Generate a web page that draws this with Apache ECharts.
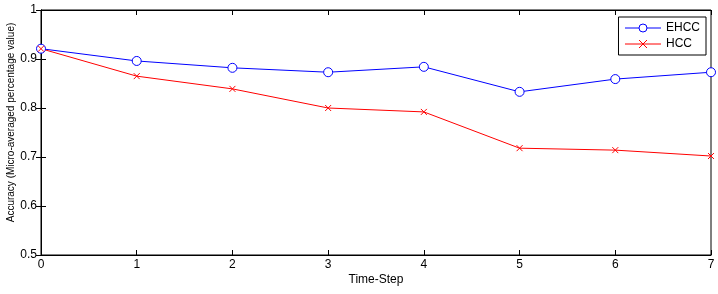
<!DOCTYPE html>
<html><head><meta charset="utf-8">
<style>html,body{margin:0;padding:0;background:#fff}#c{width:718px;height:294px}</style>
<script src="https://cdn.jsdelivr.net/npm/echarts@6/dist/echarts.min.js"></script>
</head><body><div id="c"></div>
<script>
var steps = [0, 1, 2, 3, 4, 5, 6, 7];
var ehcc = [0.921, 0.896, 0.882, 0.873, 0.884, 0.833, 0.859, 0.873];
var hcc = [0.921, 0.865, 0.839, 0.800, 0.792, 0.718, 0.714, 0.702];
var yTicks = [0.5, 0.6, 0.7, 0.8, 0.9, 1];

var chart = echarts.init(document.getElementById('c'), null, {renderer: 'canvas'});
var font = 'Liberation Sans, Arial, sans-serif';
function pairs(v) { return steps.map(function (s, i) { return [s, v[i]]; }); }
var tickStyle = {show: true, inside: true, length: 5, lineStyle: {color: '#000', width: 1}};
chart.setOption({
  animation: false,
  textStyle: {fontFamily: font},
  grid: {left: 41, right: 7, top: 10, bottom: 39, show: true, borderColor: '#000', borderWidth: 1,
         containLabel: false, outerBoundsMode: 'none'},
  legend: {
    right: 12, top: 17, orient: 'vertical', itemGap: 4, itemWidth: 36, itemHeight: 10,
    borderColor: '#000', borderWidth: 1, padding: [5, 6, 5, 6], backgroundColor: '#fff',
    textStyle: {fontFamily: font, fontSize: 12, color: '#000'},
    lineStyle: {width: 1},
    itemStyle: {borderWidth: 1},
    data: ['EHCC', 'HCC']
  },
  xAxis: [{
    type: 'value', min: 0, max: 7, interval: 1,
    name: 'Time-Step', nameLocation: 'middle', nameGap: 19, nameMoveOverlap: false,
    nameTextStyle: {fontFamily: font, fontSize: 12, color: '#000'},
    axisLine: {show: true, lineStyle: {color: '#000'}},
    axisTick: tickStyle,
    axisLabel: {color: '#000', fontSize: 12, fontFamily: font, margin: 4},
    splitLine: {show: false}
  }, {
    type: 'value', min: 0, max: 7, interval: 1, position: 'top',
    axisLine: {show: true, lineStyle: {color: '#000'}},
    axisTick: tickStyle, axisLabel: {show: false}, splitLine: {show: false}
  }],
  yAxis: [{
    type: 'value', min: 0.5, max: 1, interval: 0.1,
    name: 'Accuracy (Micro-averaged percentage value)', nameLocation: 'middle', nameGap: 25,
    nameMoveOverlap: false,
    nameTextStyle: {fontFamily: font, fontSize: 10, color: '#000', padding: [0, 0, 0, 20]},
    axisLine: {show: true, lineStyle: {color: '#000'}},
    axisTick: tickStyle,
    axisLabel: {color: '#000', fontSize: 12, fontFamily: font, margin: 4,
      formatter: function (v) { return yTicks.indexOf(Math.round(v * 10) / 10) >= 0 ? String(Math.round(v * 10) / 10) : ''; }},
    splitLine: {show: false}
  }, {
    type: 'value', min: 0.5, max: 1, interval: 0.1, position: 'right',
    axisLine: {show: true, lineStyle: {color: '#000'}},
    axisTick: tickStyle, axisLabel: {show: false}, splitLine: {show: false}
  }],
  series: [{
    name: 'EHCC', type: 'line', data: pairs(ehcc),
    symbol: 'circle', symbolSize: 9, showAllSymbol: true,
    lineStyle: {color: '#0000ff', width: 1},
    itemStyle: {color: '#fff', borderColor: '#0000ff', borderWidth: 1}
  }, {
    name: 'HCC', type: 'line', data: pairs(hcc),
    symbol: 'path://M0,0L10,10M10,0L0,10', symbolSize: 6, showAllSymbol: true,
    lineStyle: {color: '#ff0000', width: 1},
    itemStyle: {color: '#ff0000', borderColor: '#ff0000', borderWidth: 1}
  }]
});
</script></body></html>
